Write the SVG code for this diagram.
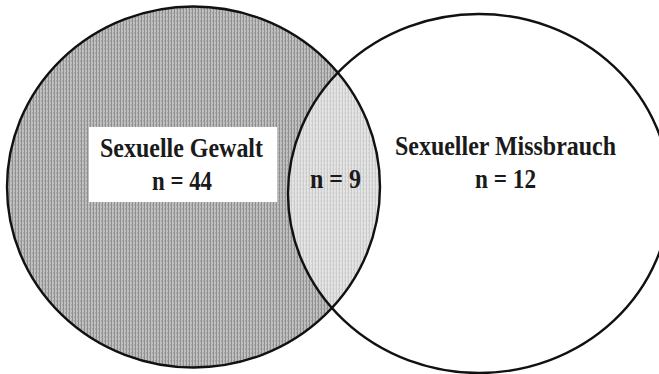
<svg xmlns="http://www.w3.org/2000/svg" width="659" height="374" viewBox="0 0 659 374">
  <defs>
    <pattern id="dark" width="3" height="4" patternUnits="userSpaceOnUse">
      <rect width="3" height="4" fill="#c0c0c0"/>
      <rect x="0" width="1" height="4" fill="#909090"/>
      <rect x="2" y="0" width="1" height="2" fill="#a8a8a8"/>
    </pattern>
    <pattern id="light" width="3" height="4" patternUnits="userSpaceOnUse">
      <rect width="3" height="4" fill="#e4e4e4"/>
      <rect x="0" width="1" height="4" fill="#cbcbcb"/>
      <rect x="2" y="0" width="1" height="2" fill="#d6d6d6"/>
    </pattern>
    <clipPath id="leftClip">
      <ellipse cx="193.5" cy="187" rx="186.5" ry="180.5"/>
    </clipPath>
    <style>
      .outline { fill: none; stroke: #111; stroke-width: 2.4; }
      .lbl { font-family: "Liberation Serif", "Times New Roman", serif; font-weight: bold; font-size: 27px; fill: #1a1a1a; text-anchor: middle; }
    </style>
  </defs>
  <rect width="659" height="374" fill="#ffffff"/>
  <g id="sexuelle-gewalt">
    <ellipse cx="193.5" cy="187" rx="186.5" ry="180.5" fill="url(#dark)"/>
  </g>
  <g id="ueberschneidung">
    <ellipse cx="479" cy="193.5" rx="191" ry="179.5" fill="url(#light)" clip-path="url(#leftClip)"/>
  </g>
  <g id="umrisse">
    <ellipse class="outline" cx="193.5" cy="187" rx="186.5" ry="180.5"/>
    <ellipse class="outline" cx="479" cy="193.5" rx="191" ry="179.5"/>
  </g>
  <g id="label-gewalt">
    <rect x="89" y="127" width="188" height="75" fill="#ffffff"/>
    <text class="lbl" x="181.5" y="157" textLength="163" lengthAdjust="spacingAndGlyphs">Sexuelle Gewalt</text>
    <text class="lbl" x="182" y="190" textLength="60" lengthAdjust="spacingAndGlyphs">n = 44</text>
  </g>
  <g id="label-schnitt">
    <text class="lbl" x="335.5" y="188" textLength="51" lengthAdjust="spacingAndGlyphs">n = 9</text>
  </g>
  <g id="label-missbrauch">
    <text class="lbl" x="505.5" y="155" textLength="221" lengthAdjust="spacingAndGlyphs">Sexueller Missbrauch</text>
    <text class="lbl" x="505.5" y="188" textLength="61" lengthAdjust="spacingAndGlyphs">n = 12</text>
  </g>
</svg>
